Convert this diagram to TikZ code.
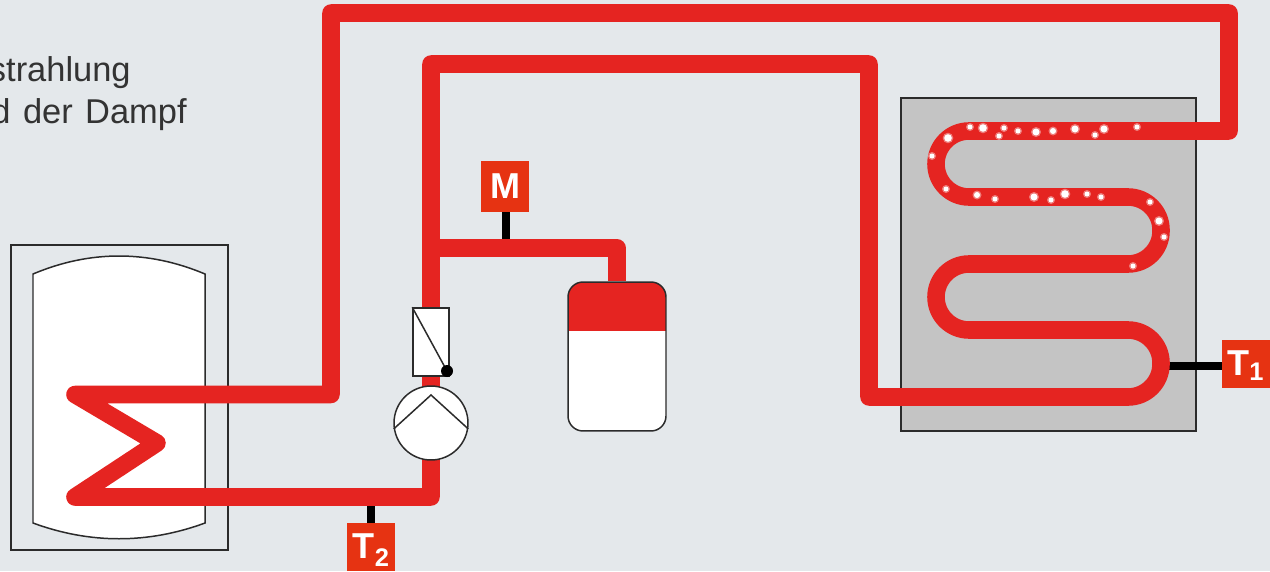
\documentclass[tikz,border=0pt]{standalone}
\usepackage{xcolor}
\usepackage{fontspec}
\setmainfont{Liberation Sans}
\newfontfamily\capfont[WordSpace=1.3]{Liberation Sans}
\usepackage{tikz}
\usetikzlibrary{arrows.meta,positioning,calc}
\definecolor{hpbg}{HTML}{E4E8EB}
\definecolor{hpred}{HTML}{E52421}
\definecolor{hporange}{HTML}{E63312}
\definecolor{hpgrey}{HTML}{C4C4C4}
\definecolor{hpdark}{HTML}{2B2B2B}
\definecolor{hptext}{HTML}{333333}
\tikzset{
  pipe/.style={hpred,line width=10pt,line join=round},
  wire/.style={black,line width=4pt},
  outline/.style={hpdark,line width=0.85pt},
  sensorbox/.style={fill=hporange,text=white,font=\bfseries\fontsize{20.5}{20.5}\selectfont,
    minimum width=0.96cm,minimum height=0.96cm,inner sep=0pt,outer sep=0pt,text height=15pt,text depth=1.4pt},
  caption/.style={hptext,font=\capfont\fontsize{19.6}{19.6}\selectfont,anchor=base east,inner sep=0pt},
}
\begin{document}
\begin{tikzpicture}[x=0.02cm,y=-0.02cm]
\useasboundingbox (0,0) rectangle (1270,571);
\clip (0,0) rectangle (1270,571);
\fill[hpbg] (0,0) rectangle (1270,571);
\node[caption] (line1) at (131,82) {strahlung};
\node[caption] (line2) at (187,123) {d der Dampf};
\draw[outline] (11,245) rectangle (228,550);
\draw[outline,fill=white] (33,274) .. controls (90,250) and (148,250) .. (205,274)
  -- (205,523) .. controls (148,544) and (90,544) .. (33,523) -- cycle;
\draw[outline,fill=hpgrey] (901,98) rectangle (1196,431);
\node[sensorbox] (T1) at (1245.5,364) {T\raisebox{-2.8pt}{\fontsize{14.5}{14.5}\selectfont 1}};
\node[sensorbox] (T2) at (371,547) {T\raisebox{-4.5pt}{\fontsize{14.5}{14.5}\selectfont 2}};
\node[sensorbox,minimum height=1.02cm] (M) at (505,186.5) {M};
\coordinate (tapT1) at (1161,366);
\coordinate (tapT2) at (371,497);
\coordinate (tapM) at (506,248);
\draw[wire,line width=4.5pt] (tapT1) -- (tapT1 -| T1.west);
\draw[wire] (tapT2) -- (tapT2 |- T2.north);
\draw[wire] (tapM) -- (tapM |- M.south);
\node[draw=hpdark,line width=0.85pt,rounded corners=0.3cm,minimum width=1.96cm,minimum height=2.98cm,
  inner sep=0pt,fill=white,path picture={\fill[hpred,sharp corners] (path picture bounding box.north west)
  rectangle ([yshift=-0.98cm]path picture bounding box.north east);}] (vessel) at (617,356.5) {};
\draw[pipe] (431,497) -- (75,497) -- (157,443) -- (75,394.5) -- (331,394.5) -- (331,13) -- (1229,13)
  -- (1229,131) [rounded corners=0.66cm] -- (936,131) -- (936,197) -- (1161,197) -- (1161,264)
  -- (936,264) -- (936,330) -- (1161,330) -- (1161,397) [sharp corners] -- (869,397) -- (869,64)
  -- (431,64) -- cycle;
\draw[pipe] (431,248) -- (617,248) -- (vessel.north);
\node[draw=hpdark,line width=0.85pt,fill=white,minimum width=0.72cm,minimum height=1.36cm,inner sep=0pt] (valve) at (431,342) {};
\draw[outline] (valve.north west) -- (447,371);
\fill[black] (447,371) circle (6);
\node[circle,draw=hpdark,line width=0.85pt,fill=white,minimum size=1.48cm,inner sep=0pt] (pump) at (431,423) {};
\draw[outline] (pump.189) -- (431,395) -- (pump.351);
\foreach \sx/\sy/\sr in {970/127/2.5,983/128/3.8,1004/128/2.5,999/136/2.5,1018/131/2.5,1036/132/3.5,
  1053/131/3,1075/129/3.5,1095/135/2.5,1104/129/3.5,1137/127/2.5,948/138/3.8,932/156/2.5,946/189/2.5,
  977/195/3,995/199/2.5,1034/197/3.5,1051/200/2.5,1065/194/3.8,1087/194/2.5,1101/197/2.5,1150/202/2.5,
  1159/221/3.5,1164/237/2.5,1133/266/2.5}
  {\fill[white,opacity=0.4] (\sx,\sy) circle ({\sr+1.5});
   \fill[white] (\sx,\sy) circle (\sr);}
\end{tikzpicture}
\end{document}
